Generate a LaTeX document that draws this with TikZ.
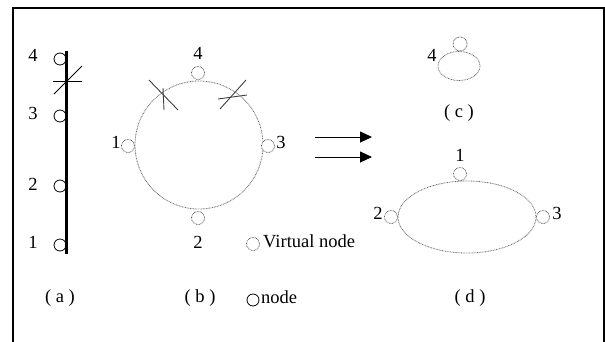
\documentclass[tikz,border=0pt]{standalone}
\usepackage{fontspec}
\setmainfont{Liberation Serif}
\usetikzlibrary{arrows.meta}
\begin{document}
\begin{tikzpicture}[x=1pt,y=-1pt,
  lbl/.style={inner sep=0pt,font=\fontsize{18.5}{22}\selectfont},
  realnode/.style={circle,draw=black,line width=0.8pt,minimum size=12pt,inner sep=0pt},
  vnode/.style={circle,draw=black!75,line width=0.7pt,dash pattern=on 0.7pt off 0.8pt,minimum size=13pt,inner sep=0pt,fill=white},
  ring/.style={draw=black!60,line width=0.8pt,dash pattern=on 0.8pt off 0.8pt},
  cut/.style={draw=black,line width=0.8pt},
  cutgray/.style={draw=black!75,line width=0.9pt},
  splitarrow/.style={draw=black,line width=0.9pt,-{Triangle[length=12pt,width=11pt]}}]
\useasboundingbox (0,0) rectangle (605,341);
% outer frame (open at the bottom)
\draw[line width=1.8pt] (13,360) -- (13,8) -- (604,8) -- (604,360);

% ---- (a) chain of real nodes on a bus ----
\node[realnode] (a4) at (60,59) {};
\node[realnode] (a3) at (60,116) {};
\node[realnode] (a2) at (60,186) {};
\node[realnode] (a1) at (60,245) {};
\coordinate (busTop) at (66,51);
\coordinate (busBot) at (66,254);
\draw[line width=3pt] (busTop) -- (busBot);
\node[lbl] (la4) at (33,55) {4};
\node[lbl] (la3) at (33,113) {3};
\node[lbl] (la2) at (33,184) {2};
\node[lbl] (la1) at (33,242) {1};
\coordinate (ca1) at (53,81); \coordinate (ca2) at (82,81);
\coordinate (ca3) at (54,94); \coordinate (ca4) at (82,66);
\draw[cut] (ca1) -- (ca2);
\draw[cut] (ca3) -- (ca4);
\node[lbl] (capA) at (60,298) {( a )};

% ---- (b) ring of virtual nodes ----
\draw[ring] (199,145) circle[radius=64];
\node[vnode] (b4) at (198,73) {};
\node[vnode] (b1) at (128,146) {};
\node[vnode] (b3) at (268,146) {};
\node[vnode] (b2) at (198,218) {};
\node[lbl] (lb4) at (198,53) {4};
\node[lbl] (lb1) at (116,142) {1};
\node[lbl] (lb3) at (281,142) {3};
\node[lbl] (lb2) at (198,242) {2};
\coordinate (cb1) at (163,88); \coordinate (cb2) at (164,110);
\coordinate (cb3) at (149,80); \coordinate (cb4) at (178,110);
\draw[cutgray] (cb1) -- (cb2);
\draw[cutgray] (cb3) -- (cb4);
\coordinate (cb5) at (218,99); \coordinate (cb6) at (247,95);
\coordinate (cb7) at (220,109); \coordinate (cb8) at (246,80);
\draw[cutgray] (cb5) -- (cb6);
\draw[cutgray] (cb7) -- (cb8);
\node[lbl] (capB) at (200,298) {( b )};

% ---- legend ----
\node[vnode] (legV) at (253,244) {};
\node[lbl,anchor=west] (legVt) at (263,241) {Virtual node};
\node[realnode] (legR) at (253,300) {};
\node[lbl,anchor=west] (legRt) at (261,297) {node};

% ---- splitting arrows ----
\coordinate (ar1s) at (315,137); \coordinate (ar1e) at (372,137);
\coordinate (ar2s) at (315,157); \coordinate (ar2e) at (372,157);
\draw[splitarrow] (ar1s) -- (ar1e);
\draw[splitarrow] (ar2s) -- (ar2e);

% ---- (c) isolated node ----
\draw[ring] (459,66) ellipse[x radius=21,y radius=14.5];
\node[vnode,minimum size=14pt] (c4) at (460,44) {};
\node[lbl] (lc4) at (432,55) {4};
\node[lbl] (capC) at (459,113) {( c )};

% ---- (d) remaining ring ----
\draw[ring] (467,217) ellipse[x radius=69,y radius=36];
\node[vnode] (d1) at (460,174) {};
\node[vnode] (d2) at (391,217) {};
\node[vnode] (d3) at (543,217) {};
\node[lbl] (ld1) at (460,155) {1};
\node[lbl] (ld2) at (378,213) {2};
\node[lbl] (ld3) at (557,213) {3};
\node[lbl] (capD) at (470,298) {( d )};
\end{tikzpicture}
\end{document}
